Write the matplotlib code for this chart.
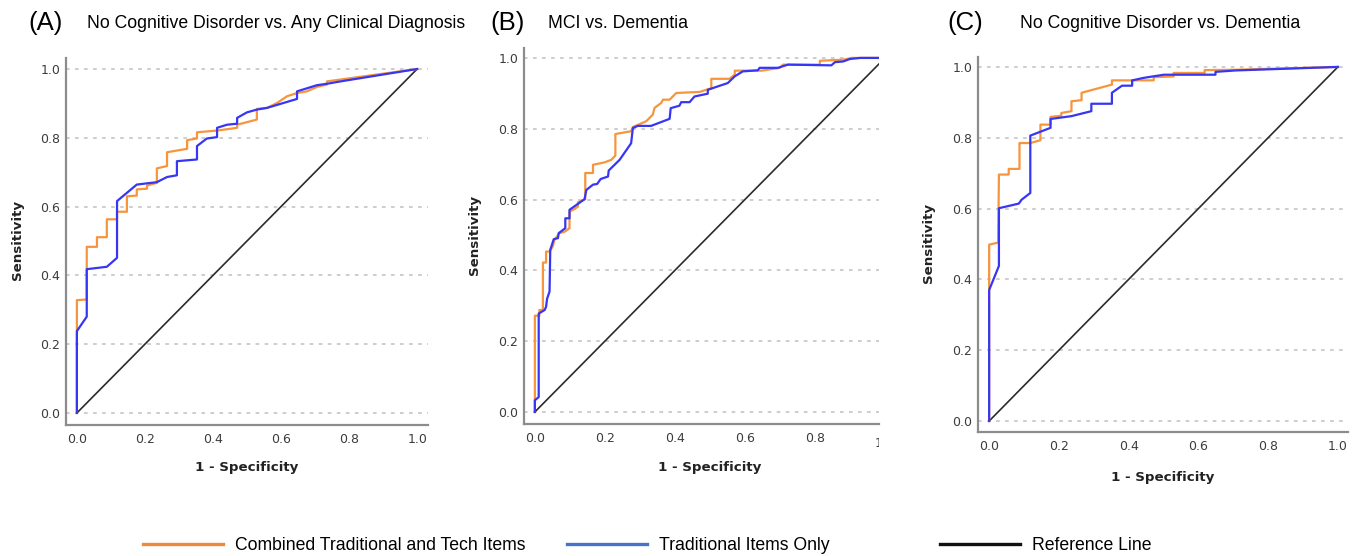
import numpy as np
import matplotlib
matplotlib.use('Agg')
from matplotlib import pyplot as plt
from matplotlib.lines import Line2D
from matplotlib.transforms import Bbox, TransformedBbox

# ROC points, (1 - specificity, sensitivity)

# (A) No Cognitive Disorder vs. Any Clinical Diagnosis
a_comb_x = [0, 0, 0.029, 0.029, 0.059, 0.059, 0.088, 0.088, 0.118, 0.118,
            0.147, 0.147, 0.176, 0.176, 0.206, 0.206, 0.235, 0.235, 0.265,
            0.265, 0.324, 0.324, 0.353, 0.353, 0.412, 0.471, 0.471, 0.529,
            0.529, 0.559, 0.588, 0.618, 0.647, 0.676, 0.706, 0.735, 0.735,
            1.0]
a_comb_y = [0, 0.328, 0.330, 0.483, 0.483, 0.511, 0.511, 0.563, 0.563,
            0.585, 0.585, 0.630, 0.632, 0.650, 0.652, 0.661, 0.669, 0.711,
            0.718, 0.758, 0.768, 0.793, 0.798, 0.816, 0.821, 0.829, 0.838,
            0.853, 0.884, 0.887, 0.901, 0.921, 0.930, 0.935, 0.948, 0.955,
            0.964, 1.0]
a_trad_x = [0, 0, 0.029, 0.029, 0.088, 0.118, 0.118, 0.176, 0.235, 0.265,
            0.294, 0.294, 0.353, 0.353, 0.382, 0.412, 0.412, 0.441, 0.471,
            0.471, 0.5, 0.529, 0.559, 0.647, 0.647, 0.706, 0.735, 0.775, 1.0]
a_trad_y = [0, 0.238, 0.280, 0.418, 0.425, 0.451, 0.616, 0.664, 0.671,
            0.686, 0.691, 0.732, 0.737, 0.776, 0.798, 0.802, 0.829, 0.838,
            0.841, 0.858, 0.874, 0.882, 0.887, 0.913, 0.935, 0.953, 0.957,
            0.964, 1.0]

# (B) MCI vs. Dementia
b_comb_x = [0, 0, 0.013, 0.013, 0.023, 0.023, 0.032, 0.032, 0.042, 0.051,
            0.056, 0.070, 0.085, 0.099, 0.099, 0.113, 0.123, 0.123, 0.144,
            0.144, 0.166, 0.166, 0.199, 0.218, 0.230, 0.230, 0.275, 0.280,
            0.318, 0.337, 0.342, 0.361, 0.366, 0.385, 0.404, 0.471, 0.499,
            0.504, 0.504, 0.556, 0.571, 0.571, 0.648, 0.700, 0.709, 0.814,
            0.814, 0.881, 0.905, 1.0]
b_comb_y = [0, 0.272, 0.272, 0.288, 0.288, 0.422, 0.422, 0.453, 0.453,
            0.467, 0.486, 0.505, 0.509, 0.519, 0.566, 0.573, 0.580, 0.592,
            0.601, 0.675, 0.675, 0.698, 0.705, 0.712, 0.724, 0.785, 0.793,
            0.805, 0.821, 0.840, 0.859, 0.873, 0.882, 0.882, 0.901, 0.904,
            0.913, 0.913, 0.941, 0.941, 0.953, 0.964, 0.964, 0.972, 0.981,
            0.981, 0.992, 0.995, 1.0, 1.0]
b_trad_x = [0, 0, 0.011, 0.011, 0.028, 0.032, 0.035, 0.042, 0.044, 0.054,
            0.066, 0.068, 0.087, 0.087, 0.099, 0.099, 0.142, 0.147, 0.166,
            0.178, 0.188, 0.209, 0.211, 0.242, 0.275, 0.280, 0.294, 0.332,
            0.385, 0.388, 0.413, 0.418, 0.442, 0.456, 0.494, 0.494, 0.551,
            0.571, 0.594, 0.637, 0.642, 0.694, 0.723, 0.847, 0.857, 0.881,
            0.900, 0.930, 1.0]
b_trad_y = [0, 0.033, 0.042, 0.278, 0.288, 0.297, 0.320, 0.340, 0.458,
            0.488, 0.491, 0.505, 0.519, 0.547, 0.547, 0.571, 0.601, 0.627,
            0.642, 0.644, 0.658, 0.665, 0.682, 0.712, 0.759, 0.802, 0.808,
            0.808, 0.828, 0.858, 0.865, 0.875, 0.875, 0.891, 0.899, 0.910,
            0.929, 0.948, 0.962, 0.965, 0.972, 0.972, 0.981, 0.979, 0.988,
            0.990, 0.997, 1.0, 1.0]

# (C) No Cognitive Disorder vs. Dementia
c_comb_x = [0, 0, 0.026, 0.028, 0.056, 0.056, 0.087, 0.087, 0.118, 0.147,
            0.147, 0.176, 0.176, 0.207, 0.207, 0.236, 0.236, 0.265, 0.265,
            0.352, 0.352, 0.472, 0.472, 0.529, 0.529, 0.618, 0.618, 0.706,
            1.0]
c_comb_y = [0, 0.498, 0.504, 0.696, 0.696, 0.712, 0.712, 0.785, 0.785,
            0.793, 0.837, 0.837, 0.859, 0.862, 0.870, 0.875, 0.903, 0.906,
            0.927, 0.950, 0.962, 0.962, 0.971, 0.973, 0.983, 0.983, 0.991,
            0.992, 1.0]
c_trad_x = [0, 0, 0.028, 0.028, 0.085, 0.093, 0.118, 0.118, 0.176, 0.176,
            0.236, 0.293, 0.293, 0.352, 0.352, 0.381, 0.410, 0.410, 0.443,
            0.501, 0.649, 0.649, 0.706, 1.0]
c_trad_y = [0, 0.370, 0.438, 0.601, 0.614, 0.625, 0.644, 0.806, 0.828,
            0.853, 0.861, 0.875, 0.896, 0.896, 0.927, 0.947, 0.947, 0.962,
            0.969, 0.978, 0.978, 0.986, 0.990, 1.0]

ref_x = [0, 1]
ref_y = [0, 1]

panel_letters = ['(A)', '(B)', '(C)']
panel_titles = ['No Cognitive Disorder vs. Any Clinical Diagnosis',
                'MCI vs. Dementia',
                'No Cognitive Disorder vs. Dementia']
legend_labels = ['Combined Traditional and Tech Items',
                 'Traditional Items Only', 'Reference Line']
y_ticks = [0.0, 0.2, 0.4, 0.6, 0.8, 1.0]

ORANGE = '#F7953D'
BLUE = '#3636F4'
W, H = 1359, 556


def px(x, y):
    # pixel position (from top-left) -> figure fraction
    return x / W, 1 - y / H


def draw_panel(fig, rect, xlim, ylim, comb, trad, xticks, ylab_pos, xlab_pos):
    ax = fig.add_axes(rect)
    for y in y_ticks:
        ax.axhline(y, color='#c9c9c9', lw=1.3, ls=(0, (2, 3)), zorder=1)
    ax.plot(ref_x, ref_y, color='#2b2b2b', lw=1.2, zorder=2)
    ax.plot(comb[0], comb[1], color=ORANGE, lw=1.6, zorder=3)
    ax.plot(trad[0], trad[1], color=BLUE, lw=1.6, zorder=4)
    ax.set_xlim(*xlim)
    ax.set_ylim(*ylim)
    ax.set_xticks(xticks)
    ax.set_yticks(y_ticks)
    ax.set_xticklabels([f'{t:.1f}' for t in xticks])
    ax.set_yticklabels([f'{t:.1f}' for t in y_ticks])
    ax.tick_params(length=0, labelsize=9, labelcolor='#3c3c3c')
    ax.tick_params(axis='x', pad=6)
    ax.tick_params(axis='y', pad=4)
    for s in ['top', 'right']:
        ax.spines[s].set_visible(False)
    for s in ['left', 'bottom']:
        ax.spines[s].set_color('#8c8c8c')
        ax.spines[s].set_linewidth(1.6)
    fig.text(*px(*ylab_pos), 'Sensitivity', rotation=90, ha='center',
             va='center', fontsize=9.6, fontweight='bold', color='#222222')
    fig.text(*px(*xlab_pos), '1 - Specificity', ha='center', va='center',
             fontsize=9.6, fontweight='bold', color='#222222')
    return ax


def main():
    fig = plt.figure(figsize=(W / 100, H / 100), dpi=100)

    draw_panel(fig, [66 / W, 1 - 425 / H, 362 / W, 367 / H],
               (-0.032, 1.032), (-0.035, 1.032),
               (a_comb_x, a_comb_y), (a_trad_x, a_trad_y),
               [0.0, 0.2, 0.4, 0.6, 0.8, 1.0], (18, 240), (247, 468))
    ax_b = draw_panel(fig, [524 / W, 1 - 424 / H, 355 / W, 376 / H],
                      (-0.031, 0.983), (-0.034, 1.028),
                      (b_comb_x, b_comb_y), (b_trad_x, b_trad_y),
                      [0.0, 0.2, 0.4, 0.6, 0.8], (474, 235), (710, 468))
    # the 1.0 label of panel B is cut off at the axes edge
    t = ax_b.text(1.0, -0.034, '1.0', transform=ax_b.transData,
                  ha='center', va='top', fontsize=9, color='#3c3c3c')
    t.set_y(ax_b.get_xticklabels()[0].get_position()[1])
    t.set_clip_box(TransformedBbox(Bbox([[0, -1], [1, 1]]),
                                   ax_b.transAxes))
    t.set_clip_on(True)
    t.set_transform(ax_b.get_xaxis_transform())
    t.set_position((1.0, -0.035))
    draw_panel(fig, [978 / W, 1 - 432 / H, 370 / W, 375 / H],
               (-0.032, 1.029), (-0.031, 1.028),
               (c_comb_x, c_comb_y), (c_trad_x, c_trad_y),
               [0.0, 0.2, 0.4, 0.6, 0.8, 1.0], (928, 243), (1163, 477))

    letter_x = [28, 490, 947]
    title_x = [87, 548, 1020]
    for i in range(3):
        fig.text(*px(letter_x[i], 23), panel_letters[i], ha='left',
                 va='center', fontsize=18.5, family='Liberation Sans')
        fig.text(*px(title_x[i], 23), panel_titles[i], ha='left',
                 va='center', fontsize=12.7, family='Liberation Sans')

    leg_colors = ['#F08A3B', '#4774CB', '#111111']
    leg_x = [143, 567, 940]
    for i in range(3):
        h = Line2D([], [], color=leg_colors[i], lw=2.4)
        fig.legend([h], [legend_labels[i]], loc='center left',
                   bbox_to_anchor=px(leg_x[i], 546), frameon=False,
                   borderpad=0, borderaxespad=0, handlelength=4.55,
                   handletextpad=0.68,
                   prop={'family': 'Liberation Sans', 'size': 12.7})

    fig.savefig('out.png', dpi=100)


if __name__ == "__main__":
    main()
